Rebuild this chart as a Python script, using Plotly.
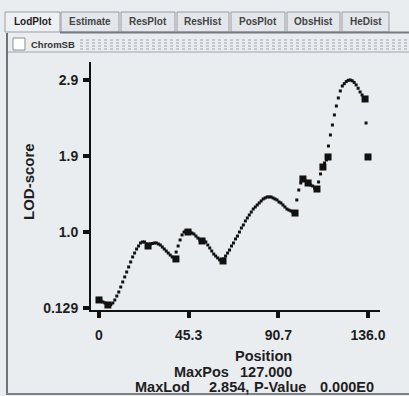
import plotly.graph_objects as go

# ---------------- data ----------------
positions = list(range(0, 137))  # 1 cM calculation grid
lod = [
    0.225, 0.213, 0.201, 0.189, 0.177, 0.165, 0.170, 0.189, 0.225, 0.272,
    0.320, 0.380, 0.440, 0.500, 0.559, 0.619, 0.679, 0.739, 0.786, 0.834,
    0.870, 0.906, 0.918, 0.918, 0.894, 0.882, 0.894, 0.900, 0.906, 0.906,
    0.894, 0.882, 0.858, 0.834, 0.810, 0.786, 0.762, 0.739, 0.727, 0.798,
    0.870, 0.942, 1.002, 1.037, 1.049, 1.037, 1.037, 1.025, 1.013, 0.989,
    0.965, 0.942, 0.930, 0.930, 0.918, 0.882, 0.846, 0.810, 0.774, 0.750,
    0.727, 0.703, 0.691, 0.715, 0.750, 0.786, 0.822, 0.870, 0.906, 0.954,
    0.989, 1.037, 1.085, 1.121, 1.169, 1.205, 1.241, 1.276, 1.312, 1.336,
    1.360, 1.384, 1.408, 1.432, 1.444, 1.456, 1.456, 1.456, 1.444, 1.432,
    1.420, 1.396, 1.384, 1.360, 1.336, 1.312, 1.300, 1.288, 1.276, 1.264,
    1.420, 1.539, 1.623, 1.671, 1.659, 1.635, 1.611, 1.599, 1.587, 1.563,
    1.551, 1.635, 1.731, 1.814, 1.862, 1.898, 2.065, 2.197, 2.316, 2.436,
    2.543, 2.639, 2.723, 2.782, 2.810, 2.835, 2.850, 2.854, 2.845, 2.825,
    2.795, 2.755, 2.711, 2.675, 2.640, 2.340, 1.934,
]
marker_pos = [0, 4.5, 24.8, 38.9, 45.0, 52.1, 62.7, 99.1, 103.1, 105.7,
              110.2, 113.2, 115.8, 134.5, 136.0]
marker_lod = [0.225, 0.165, 0.870, 0.715, 1.037, 0.930, 0.691, 1.264, 1.671,
              1.623, 1.551, 1.814, 1.934, 2.627, 1.934]

x_tick_vals = [0, 45.333, 90.667, 136.0]
x_tick_text = ["0", "45.3", "90.7", "136.0"]
y_tick_vals = [0.129, 1.037, 1.946, 2.854]
y_tick_text = ["0.129", "1.0", "1.9", "2.9"]

tab_labels = ["LodPlot", "Estimate", "ResPlot", "ResHist", "PosPlot", "ObsHist", "HeDist"]
panel_title = "ChromSB"
max_pos_text = "127.000"
max_lod_text = "2.854,"
p_value_text = "0.000E0"

# ---------------- layout helpers (pixel -> paper) ----------------
W, H = 409, 396
L, R, T, B = 91, 29, 62, 86
PW, PH = W - L - R, H - T - B


def px(x):
    return (x - L) / PW


def py(y):
    return (H - B - y) / PH


FONT = "Liberation Sans, Arial, sans-serif"
BG = "#eaedf0"
INK = "#1e1e1e"

fig = go.Figure()
fig.add_trace(go.Scatter(
    x=positions, y=lod, mode="markers",
    marker=dict(symbol="square", size=3, color="#111111", line=dict(width=0)),
    hoverinfo="x+y", showlegend=False))
fig.add_trace(go.Scatter(
    x=marker_pos, y=marker_lod, mode="markers",
    marker=dict(symbol="square", size=7, color="#111111", line=dict(width=0)),
    hoverinfo="x+y", showlegend=False))

shapes = []
annotations = []

# tabs
tab_edges = [(5, 60), (61, 119), (121, 175), (177, 229), (231, 285), (287, 340), (342, 389)]
for i, ((x0, x1), lab) in enumerate(zip(tab_edges, tab_labels)):
    shapes.append(dict(type="rect", xref="paper", yref="paper",
                       x0=px(x0), x1=px(x1), y0=py(32), y1=py(12),
                       fillcolor="#eef0f3" if i == 0 else "#e3e6ea",
                       line=dict(color="#9a9da2", width=1), layer="below"))
    annotations.append(dict(text=lab, xref="paper", yref="paper",
                            x=px((x0 + x1) / 2), y=py(21), showarrow=False,
                            xanchor="center", yanchor="middle",
                            font=dict(family=FONT, size=10, weight="bold",
                                      color="#222222" if i == 0 else "#444444")))
# line below tabs
shapes.append(dict(type="line", xref="paper", yref="paper",
                   x0=px(60), x1=px(409), y0=py(32.5), y1=py(32.5),
                   line=dict(color="#777a7f", width=2)))
shapes.append(dict(type="line", xref="paper", yref="paper",
                   x0=px(6), x1=px(409), y0=py(52), y1=py(52),
                   line=dict(color="#a0a3a8", width=1)))
# checkbox
shapes.append(dict(type="rect", xref="paper", yref="paper",
                   x0=px(13), x1=px(25), y0=py(50), y1=py(38),
                   fillcolor="#ffffff", line=dict(color="#8a8d92", width=1)))
annotations.append(dict(text=panel_title, xref="paper", yref="paper",
                        x=px(29), y=py(44), showarrow=False,
                        xanchor="left", yanchor="middle",
                        font=dict(family=FONT, size=9.5, weight="bold", color="#333333")))
# textured title stripe
for yy in (40, 43, 46, 49):
    shapes.append(dict(type="line", xref="paper", yref="paper",
                       x0=px(80), x1=px(409), y0=py(yy), y1=py(yy),
                       line=dict(color="#b9bdc3", width=1.5, dash="dot")))
# panel borders
shapes.append(dict(type="line", xref="paper", yref="paper",
                   x0=px(7), x1=px(7), y0=py(33), y1=py(393),
                   line=dict(color="#6f7277", width=2)))
shapes.append(dict(type="line", xref="paper", yref="paper",
                   x0=px(6), x1=px(409), y0=py(394), y1=py(394),
                   line=dict(color="#7d8085", width=2)))

# axis titles / info text
annotations.append(dict(text="LOD-score", xref="paper", yref="paper",
                        x=px(28), y=py(182), showarrow=False, textangle=-90,
                        xanchor="center", yanchor="middle",
                        font=dict(family=FONT, size=15, weight="bold", color=INK)))
annotations.append(dict(text="Position", xref="paper", yref="paper",
                        x=px(233), y=py(356), showarrow=False,
                        xanchor="left", yanchor="middle",
                        font=dict(family=FONT, size=14.5, weight="bold", color=INK)))
info = [("MaxPos", 172, 372), (max_pos_text, 238, 372),
        ("MaxLod", 133, 387), (max_lod_text, 207, 387),
        ("P-Value", 252, 387), (p_value_text, 318, 387)]
for txt, xx, yy in info:
    annotations.append(dict(text=txt, xref="paper", yref="paper",
                            x=px(xx), y=py(yy), showarrow=False,
                            xanchor="left", yanchor="middle",
                            font=dict(family=FONT, size=14.5, weight="bold", color=INK)))

axis_common = dict(showgrid=False, zeroline=False, showline=True,
                   linecolor="#111111", linewidth=2, mirror=False,
                   ticks="outside", ticklen=6, tickwidth=4, tickcolor="#111111",
                   tickfont=dict(family=FONT, size=14, weight="bold", color=INK))

fig.update_layout(
    width=W, height=H,
    margin=dict(l=L, r=R, t=T, b=B),
    paper_bgcolor=BG, plot_bgcolor=BG,
    xaxis=dict(range=[-4.04, 142.06], tickvals=x_tick_vals, ticktext=x_tick_text,
               ticklabelstandoff=5, **axis_common),
    yaxis=dict(range=[0.105, 3.069], tickvals=y_tick_vals, ticktext=y_tick_text,
               ticklabelstandoff=2, **axis_common),
    shapes=shapes, annotations=annotations,
    showlegend=False,
)

fig.write_html("out.html", config={"displayModeBar": False},
               post_script="document.body.style.margin='0';document.body.style.overflow='hidden';")
